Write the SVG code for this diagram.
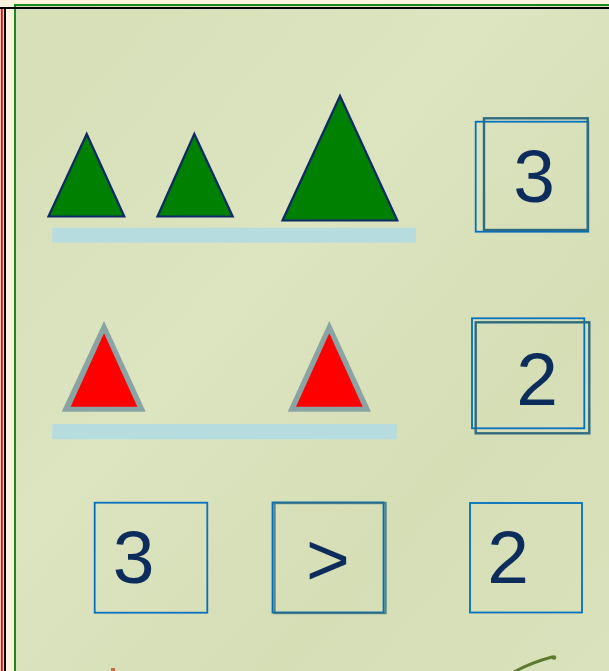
<svg xmlns="http://www.w3.org/2000/svg" width="609" height="671" viewBox="0 0 609 671">
<defs>
<linearGradient id="bg" x1="0" y1="0" x2="1" y2="1">
<stop offset="0" stop-color="#D7DFB8"/>
<stop offset="0.4" stop-color="#DCE4C0"/>
<stop offset="0.7" stop-color="#D6DEB6"/>
<stop offset="1" stop-color="#DAE2BD"/>
</linearGradient>
<style>
.gtri{fill:#008000;stroke:#0E2A66;stroke-width:2.2;stroke-linejoin:miter}
.rout{fill:#8AA3A3}
.rin{fill:#FF0000}
.bar{fill:#B7DCE0}
.bbox{fill:none;stroke:#0070C0;stroke-width:1.8}
.dbox{fill:none;stroke:#2E6B80;stroke-width:2.4}
.num{font-family:"Liberation Sans",Arial,sans-serif;font-size:75px;fill:#0C2D5C;text-anchor:middle}
</style>
</defs>
<rect x="0" y="0" width="609" height="671" fill="#FFF3DE"/>
<rect x="15" y="5" width="600" height="680" fill="url(#bg)" stroke="#1A8A1A" stroke-width="2"/>
<line x1="0" y1="8" x2="609" y2="8" stroke="#000" stroke-width="2"/>
<line x1="5" y1="8" x2="5" y2="671" stroke="#000" stroke-width="2"/>
<line x1="1.8" y1="9" x2="1.8" y2="671" stroke="#FF0000" stroke-width="2"/>

<g id="green-triangles">
<polygon class="gtri" points="86.7,134 48.5,216.5 124.3,216.5"/>
<polygon class="gtri" points="194.3,134 157.5,216.5 232.7,216.5"/>
<polygon class="gtri" points="340,96 282.5,220.5 397.3,220.5"/>
</g>
<g id="bar-top"><rect class="bar" x="52.3" y="227.7" width="363.7" height="15"/></g>

<g id="red-triangles">
<polygon class="rout" points="104,321 61.7,411.7 145.7,411.7"/>
<polygon class="rin" points="104,333.3 70.7,406.7 137.3,406.7"/>
<polygon class="rout" points="329.3,321 287.7,411.7 371,411.7"/>
<polygon class="rin" points="329.3,333.3 296,406.7 362.7,406.7"/>
</g>
<g id="bar-bottom"><rect class="bar" x="52.3" y="424" width="344.4" height="15.3"/></g>

<g id="count-3">
<rect class="bbox" x="475.7" y="121.7" width="112.6" height="110"/>
<rect class="dbox" x="484" y="118.3" width="103.7" height="111.7"/>
<text class="num" x="534" y="202">3</text>
</g>
<g id="count-2">
<rect class="bbox" x="472" y="318.3" width="112.3" height="110"/>
<rect class="dbox" x="475.7" y="322.3" width="113.6" height="111"/>
<text class="num" x="537" y="405">2</text>
</g>

<g id="cmp-left">
<rect class="bbox" x="94.7" y="502.7" width="112.6" height="110"/>
<text class="num" x="133.5" y="583">3</text>
</g>
<g id="cmp-sign">
<rect class="bbox" x="272.5" y="502.5" width="111" height="110"/>
<rect class="dbox" x="274.5" y="503" width="111" height="110" opacity="0.75"/>
<text class="num" x="328" y="585">&gt;</text>
</g>
<g id="cmp-right">
<rect class="bbox" x="470" y="503" width="112" height="109.5"/>
<text class="num" x="508" y="583">2</text>
</g>

<g id="decor">
<path d="M514,672 Q530,663 552,657" fill="none" stroke="#5E7A2E" stroke-width="3" stroke-linecap="round"/>
<circle cx="554" cy="657.5" r="2.3" fill="#5E7A2E"/>
<rect x="111" y="668" width="4" height="3" fill="#D0693A"/>
</g>
<g id="connectors"/>
</svg>
